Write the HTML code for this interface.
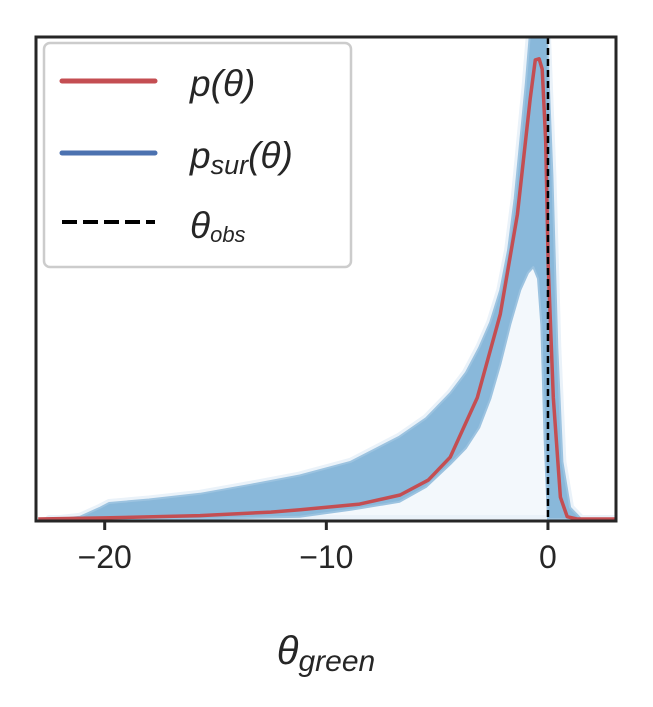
<!DOCTYPE html>
<html><head><meta charset="utf-8"><style>
html,body{margin:0;padding:0;background:#fff;}
svg{display:block;font-family:"Liberation Sans","DejaVu Sans",sans-serif;}
</style></head><body>
<svg id="chart" width="653" height="707">
<defs><clipPath id="plotclip"><rect x="36" y="37" width="580" height="484"/></clipPath></defs>
<g id="plot" clip-path="url(#plotclip)"></g>
<rect x="36" y="37" width="580" height="484" fill="none" stroke="#262626" stroke-width="3"/>
<g id="xaxis"></g>
<text x="326" y="664" text-anchor="middle" font-size="40" font-style="italic" fill="#262626">θ<tspan font-size="30" dy="7">green</tspan></text>
<g>
<rect x="44" y="43" width="307" height="224" rx="6" fill="#fff" fill-opacity="0.85" stroke="#cccccc" stroke-width="2.5"/>
<line x1="62" y1="81" x2="155" y2="81" stroke="#c44e52" stroke-width="5" stroke-linecap="round"/>
<text x="190" y="96" font-size="37" font-style="italic" fill="#262626">p(θ)</text>
<line x1="62" y1="153" x2="155" y2="153" stroke="#4c72b0" stroke-width="5" stroke-linecap="round"/>
<text x="190" y="168" font-size="37" font-style="italic" fill="#262626">p<tspan font-size="27" dy="6">sur</tspan><tspan dy="-6">(θ)</tspan></text>
<line x1="62" y1="222" x2="155" y2="222" stroke="#000" stroke-width="4" stroke-dasharray="15,6"/>
<text x="190" y="238" font-size="37" font-style="italic" fill="#262626">θ<tspan font-size="22" dy="4">obs</tspan></text>
</g>
</svg>
<script>
const redX=[-23,-20,-15.7,-12.5,-11.18,-8.5,-6.67,-5.4,-4.41,-3.19,-2.15,-1.38,-0.8,-0.57,-0.4,-0.26,-0.1,0.01,0.24,0.56,0.87,1.3,3.1];
const redY=[0,0.001,0.003,0.006,0.008,0.013,0.021,0.034,0.054,0.106,0.179,0.266,0.367,0.401,0.402,0.393,0.33,0.222,0.106,0.019,0.002,0,0];
const bandUpX=[-22.5,-22.0,-21.1,-20.2,-19.8,-18.0,-15.7,-13.4,-11.2,-8.9,-6.7,-5.5,-4.4,-3.7,-3.1,-2.6,-2.15,-1.8,-1.5,-1.0,-0.7,-0.1,0.2,0.42,0.65,1.0,1.5,3.1];
const bandUpY=[0,0,0.002,0.010,0.014,0.017,0.022,0.030,0.038,0.050,0.072,0.088,0.110,0.128,0.150,0.172,0.20,0.235,0.28,0.38,0.45,0.45,0.30,0.15,0.05,0.01,0,0];
const bandLoX=[-22.5,-15.7,-11.2,-8.9,-6.7,-5.5,-4.4,-3.7,-3.1,-2.6,-2.15,-1.7,-1.25,-0.9,-0.66,-0.45,-0.3,-0.15,0.0,3.1];
const bandLoY=[0,0,0.002,0.008,0.015,0.028,0.048,0.062,0.080,0.105,0.135,0.17,0.20,0.215,0.22,0.21,0.17,0.07,0,0];
const xTicks=[-20,-10,0];
const xTickLabels=["\u221220","\u221210","0"];
const obsX=0;
const X0=-23.1,X1=3.07,Y0=0,Y1=0.421;
function sx(v){return 36+(v-X0)/(X1-X0)*580;}
function sy(v){return 519-(v-Y0)/(Y1-Y0)*482;}
const NS="http://www.w3.org/2000/svg";
const plot=document.getElementById('plot');
function mk(t,a){const e=document.createElementNS(NS,t);for(const k in a)e.setAttribute(k,a[k]);return e;}
let up="";
bandUpX.forEach((x,i)=>{up+=(i?"L":"M")+sx(x).toFixed(1)+","+sy(bandUpY[i]).toFixed(1);});
let d=up;
for(let i=bandLoX.length-1;i>=0;i--){d+="L"+sx(bandLoX[i]).toFixed(1)+","+sy(bandLoY[i]).toFixed(1);}
d+="Z";
const under=mk('path',{d:up+"Z",fill:'#f3f8fc',stroke:'#eaf2f9','stroke-width':8,'stroke-linejoin':'round'});


plot.appendChild(under);
const band=mk('path',{d:d,fill:'#89b8da',stroke:'#9cc3e0','stroke-width':2,'stroke-linejoin':'round'});


plot.appendChild(band);
let rd="";
redX.forEach((x,i)=>{rd+=(i?"L":"M")+sx(x).toFixed(1)+","+sy(redY[i]).toFixed(1);});
const red=mk('path',{d:rd,fill:'none',stroke:'#c44e52','stroke-width':3.5,'stroke-linejoin':'round'});


plot.appendChild(red);
const obs=mk('line',{x1:sx(obsX),x2:sx(obsX),y1:37,y2:521,stroke:'#000','stroke-width':2.5,'stroke-dasharray':'7,4'});


plot.appendChild(obs);
const xa=document.getElementById('xaxis');
xTicks.forEach((t,i)=>{
  const tk=mk('line',{x1:sx(t),x2:sx(t),y1:521,y2:530,stroke:'#262626','stroke-width':3});
  
  
  xa.appendChild(tk);
  const lb=mk('text',{x:sx(t),y:568,'text-anchor':'middle','font-size':32,fill:'#262626'});
  lb.textContent=xTickLabels[i];
  
  
  xa.appendChild(lb);
});
</script>
</body></html>
